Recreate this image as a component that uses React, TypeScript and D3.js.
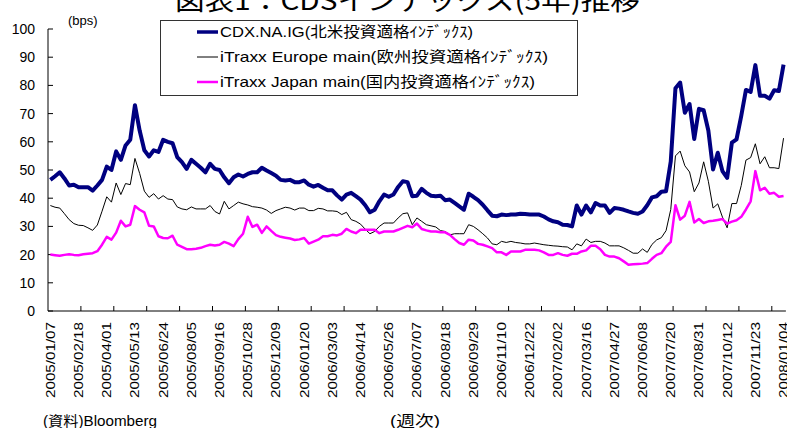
import React from "react";
import * as d3 from "d3";

const width = 787;
const height = 428;

// weekly closes, 2005/01/07 .. 2008/01/04 (bps)
const cdx = [
  46.5, 47.8, 49.2, 47, 44.5, 44.8, 43.9, 43.9, 43.9, 42.7,
  44.5, 46.5, 51.2, 50, 56.6, 53.6, 58.7, 60.7, 73, 64,
  57, 54.8, 57, 56.4, 60.7, 60, 59.5, 54.6, 52.8, 50.4,
  53.6, 52.2, 50.8, 49.2, 52.2, 50.4, 50, 47.4, 45.3, 47.4,
  48.4, 47.7, 48.6, 49.2, 49.2, 50.8, 49.8, 48.9, 48, 46.5,
  46.3, 46.5, 45.7, 45.7, 46.3, 44.8, 44.1, 44.7, 43.7, 42.8,
  42.8, 41, 39.5, 41.3, 41.9, 40.7, 39.5, 37.5, 35, 35.9,
  38.9, 41.3, 40.5, 41.3, 44, 46, 45.7, 40.7, 40.9, 43.3,
  41.9, 40.9, 40.7, 40.9, 39.3, 39.5, 38.3, 37.1, 35.9, 41.6,
  40.5, 39.3, 37.7, 35.7, 33.8, 33.6, 34.2, 34, 34.2, 34.2,
  34.5, 34.4, 34.2, 34.2, 34.2, 33.5, 32.5, 31.8, 31.5, 30.6,
  30.5, 30, 37.4, 34.2, 37.4, 35, 38.3, 37.4, 37.4, 34.8,
  36.5, 36.3, 35.9, 35.3, 34.8, 34.5, 35.3, 37.5, 40.3, 40.7,
  42.3, 42.5, 53, 79, 81, 70.3, 73.4, 61, 71.7, 71.2,
  64, 50.2, 56.1, 49.6, 47.2, 59.7, 60.9, 69.2, 78.4, 77.7,
  87.2, 76.3, 76.3, 75.3, 78.3, 78, 87.4,
];

const europe = [
  37.4, 36.8, 36.5, 34.5, 32.4, 31, 30.4, 30.3, 29.5, 28.6,
  30.5, 35.4, 40.5, 38.6, 45.4, 41.3, 45.2, 44.8, 54.1, 48.8,
  42.5, 40.3, 41.6, 39.7, 40.9, 39.7, 39.5, 36.9, 36.2, 35.9,
  36.9, 36.2, 36.2, 36.2, 37.4, 35.3, 34.4, 38.9, 36.2, 37.4,
  38.6, 38, 37.6, 37, 36.8, 36.5, 35.8, 34.6, 35.6, 36.2,
  36.8, 36.5, 35.8, 36.5, 36.5, 35.6, 35.6, 36.4, 36.2, 35.5,
  35.5, 35.3, 34.2, 35, 32.4, 31.8, 30.8, 29, 27.4, 28.2,
  30, 31.2, 31.2, 31.2, 33, 34.5, 34.8, 30.6, 33, 31.8,
  30.6, 30.2, 29.8, 28.5, 28.2, 27, 27.4, 27.4, 27.4, 30.6,
  30, 28.8, 27.4, 25.9, 23.8, 23.5, 24.7, 24.3, 24.7, 24.3,
  24.1, 23.8, 23.8, 24.1, 23.8, 23.5, 23.3, 23.1, 23, 22.8,
  22.7, 21.7, 23.8, 23.1, 25.5, 24.3, 24.7, 24.7, 24.1, 23.1,
  23.1, 23.1, 22.4, 21.5, 20.5, 20.5, 22, 20.8, 23.6, 25.2,
  26, 28.5, 36, 55, 56.7, 51.5, 49.3, 42.3, 45.4, 52.9,
  46, 36.5, 38, 33.3, 29.5, 38.1, 38.1, 44.5, 53.5, 54.4,
  59.3, 52.2, 54.7, 50.8, 50.8, 50.5, 61.3,
];

const japan = [
  20, 19.8, 19.6, 19.9, 20.1, 19.9, 19.8, 20.1, 20.3, 20.5,
  21.2, 23.5, 26.3, 25.3, 27.8, 32, 30, 30.6, 37.2, 35.9,
  35, 30.2, 30, 26.5, 25.9, 25.8, 26.7, 23.5, 22.7, 21.9,
  21.9, 22.1, 22.4, 23, 23.5, 23.2, 23.5, 24.5, 23.9, 23,
  25.5, 27.4, 33.4, 29.8, 30.6, 27.7, 30, 28.4, 26.9, 26.3,
  26, 25.7, 25.2, 25.4, 25.9, 23.9, 24.6, 25.3, 26.5, 26.5,
  27, 26.8, 27.4, 29.1, 28.2, 27.6, 28.8, 28.8, 28.8, 28.8,
  27.6, 28.2, 28.2, 28.2, 28.8, 29.5, 30.2, 29.7, 31, 29.1,
  28.6, 28.2, 28.2, 27.9, 27.9, 27, 25.5, 24.1, 23.5, 25.3,
  25, 23.8, 23.5, 22.9, 22.3, 20.8, 20.8, 19.9, 21.1, 21.1,
  21.1, 21.7, 21.7, 21.7, 21.5, 20.8, 19.9, 19.9, 20.5, 19.9,
  19.6, 20.3, 20.3, 21.1, 21.5, 23.1, 23.1, 21.9, 19.9, 19.3,
  19.3, 18.7, 17.6, 16.4, 16.6, 16.7, 16.8, 17, 18.5, 19.9,
  20.5, 22.8, 24.5, 37.5, 32.4, 33.8, 38.7, 31.4, 32.6, 31.2,
  31.8, 32, 32.3, 32.6, 31, 31.7, 32.2, 33.4, 36, 38.9,
  49.6, 42.8, 43.7, 41.6, 41.9, 40.5, 40.8,
];

const tickLabels = [
  "2005/01/07", "2005/02/18", "2005/04/01", "2005/05/13", "2005/06/24",
  "2005/08/05", "2005/09/16", "2005/10/28", "2005/12/09", "2006/01/20",
  "2006/03/03", "2006/04/14", "2006/05/26", "2006/07/07", "2006/08/18",
  "2006/09/29", "2006/11/10", "2006/12/22", "2007/02/02", "2007/03/16",
  "2007/04/27", "2007/06/08", "2007/07/20", "2007/08/31", "2007/10/12",
  "2007/11/23", "2008/01/04",
];
const labelEvery = 6;
const markEvery = 7;

const yTicks = [0, 10, 20, 30, 40, 50, 60, 70, 80, 90, 100];

const seriesNames = [
  "CDX.NA.IG(北米投資適格ｲﾝﾃﾞｯｸｽ)",
  "iTraxx Europe main(欧州投資適格ｲﾝﾃﾞｯｸｽ)",
  "iTraxx Japan main(国内投資適格ｲﾝﾃﾞｯｸｽ)",
];
const seriesColors = ["#000080", "#000000", "#ff00ff"];
const seriesWidths = [4, 1, 2.5];
const legendTextLen = [253, 328, 315];

const left = 48;
const catWidth = 4.7;
const top = 29;
const bottom = 311;

const font = "'Liberation Sans', Arial, 'Noto Sans CJK JP', sans-serif";

export default function App() {
  const n = cdx.length;
  const x = d3.scaleBand<number>()
    .domain(d3.range(n))
    .range([left, left + n * catWidth]);
  const cx = (i: number) => (x(i) as number) + x.bandwidth() / 2;
  const y = d3.scaleLinear().domain([0, 100]).range([bottom, top]);

  const line = d3.line<number>()
    .x((_, i) => cx(i))
    .y(d => y(d));

  const series = [cdx, europe, japan];
  const right = left + n * catWidth;
  const marks = d3.range(0, n, markEvery).filter(i => i > 0);

  return (
    <svg width={width} height={height} style={{ position: "absolute", left: 0, top: 0 }}
      fontFamily={font}>
      <rect width={width} height={height} fill="#fff" />
      <text x={175} y={10} fontSize={26} textLength={465} lengthAdjust="spacingAndGlyphs"
        fontFamily="'Noto Sans CJK JP', sans-serif">図表1：CDSインデックス(5年)推移</text>

      {/* y axis */}
      <line x1={left} x2={left} y1={top} y2={bottom} stroke="#000" />
      {yTicks.map(t => (
        <g key={t}>
          <line x1={left} x2={left + 5} y1={y(t)} y2={y(t)} stroke="#000" />
          <text x={35} y={y(t)} dy="0.36em" textAnchor="end" fontSize={14}>{t}</text>
        </g>
      ))}
      <text x={68} y={25} fontSize={13}>(bps)</text>

      {/* x axis */}
      <line x1={left} x2={right} y1={bottom} y2={bottom} stroke="#000" />
      {marks.map(i => (
        <line key={i} x1={x(i)} x2={x(i)} y1={bottom} y2={bottom - 5} stroke="#000" />
      ))}
      {tickLabels.map((lab, k) => {
        const i = k * labelEvery;
        return (
          <text key={lab} transform={`translate(${cx(i) + 4.5},322) rotate(-90)`}
            textAnchor="end" fontSize={13} textLength={76} lengthAdjust="spacingAndGlyphs">
            {lab}
          </text>
        );
      })}

      {/* series */}
      {series.map((s, k) => (
        <path key={k} d={line(s) as string} fill="none" stroke={seriesColors[k]}
          strokeWidth={seriesWidths[k]} strokeLinejoin="round" />
      ))}

      {/* legend */}
      <rect x={160.5} y={20.5} width={417} height={75} fill="#fff" stroke="#333" />
      {seriesNames.map((name, k) => (
        <g key={name} transform={`translate(0,${32 + k * 25})`}>
          <line x1={197} x2={218} y1={0} y2={0} stroke={seriesColors[k]}
            strokeWidth={Math.min(seriesWidths[k], 3.5)} />
          <text x={220} y={0} dy="0.36em" fontSize={15} textLength={legendTextLen[k]}
            lengthAdjust="spacingAndGlyphs">{name}</text>
        </g>
      ))}

      <text x={43} y={426} fontSize={14} textLength={114} lengthAdjust="spacingAndGlyphs">(資料)Bloomberg</text>
      <text x={390} y={426} fontSize={15} textLength={50} lengthAdjust="spacingAndGlyphs">(週次)</text>
    </svg>
  );
}
